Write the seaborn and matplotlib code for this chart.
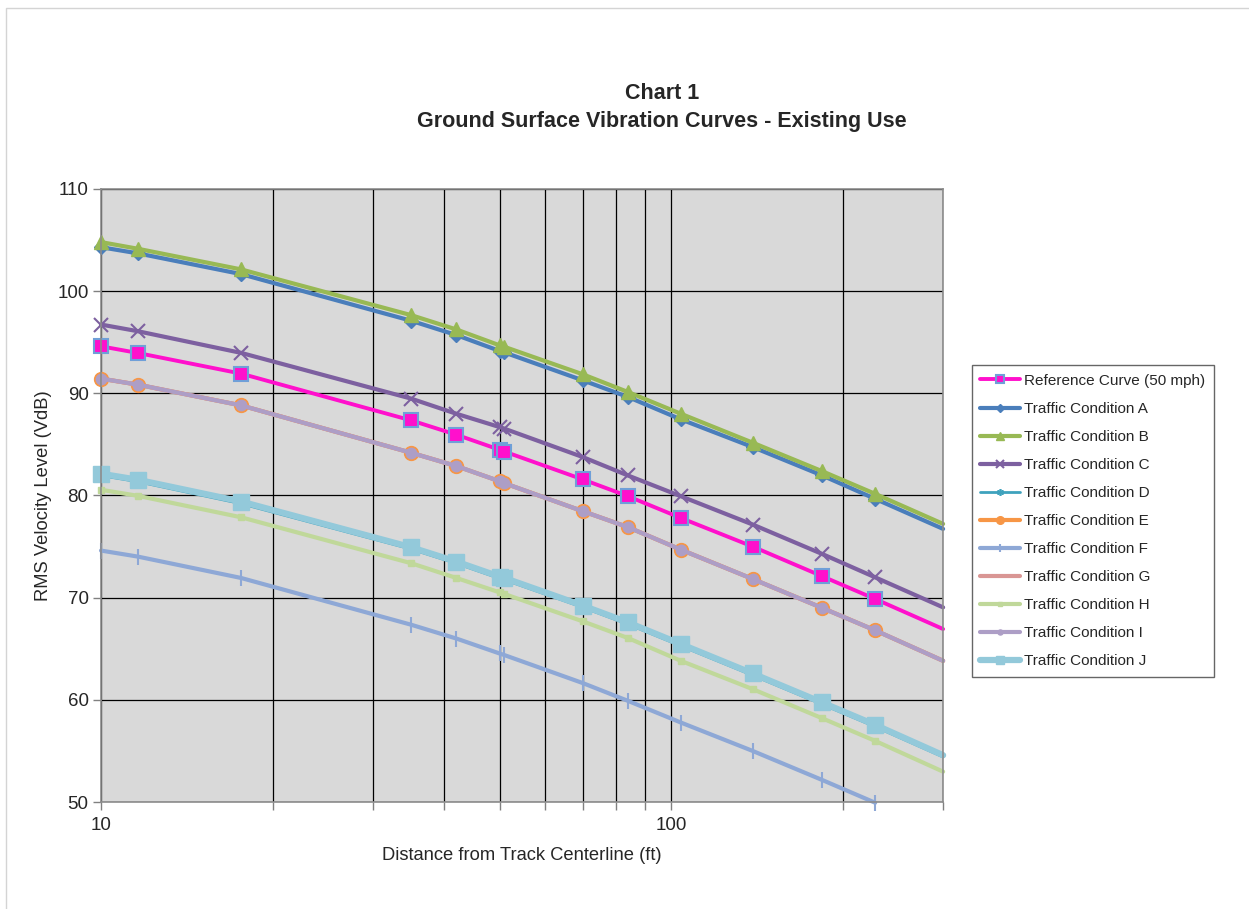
import numpy as np
import pandas as pd
import matplotlib
matplotlib.use("Agg")
import matplotlib.pyplot as plt
import seaborn as sns
from matplotlib.ticker import FixedLocator, NullFormatter, FixedFormatter
from matplotlib.patches import Rectangle

# ---- data ----
# distance from track centerline (ft); the last point (300) only carries the line to the axis edge
distance = [10, 11.6, 17.6, 35, 42, 50, 51, 70, 84, 104, 139, 184, 228, 300]

ref_curve = [94.6, 93.95, 91.93, 87.35, 85.95, 84.48, 84.3, 81.57, 79.93, 77.8, 75.0, 72.1, 69.87, 66.93]
cond_a = [104.3, 103.7, 101.67, 97.1, 95.7, 94.15, 94.0, 91.27, 89.64, 87.45, 84.74, 81.96, 79.67, 76.73]
cond_b = [104.8, 104.15, 102.13, 97.65, 96.25, 94.7, 94.55, 91.86, 90.13, 88.0, 85.17, 82.38, 80.16, 77.22]
cond_c = [96.73, 96.08, 93.96, 89.48, 88.0, 86.7, 86.54, 83.76, 81.96, 79.93, 77.16, 74.28, 71.99, 69.05]
cond_d = [81.95, 81.35, 79.2, 74.75, 73.35, 71.88, 71.75, 69.05, 67.4, 65.28, 62.4, 59.56, 57.37, 54.41]
cond_e = [91.44, 90.85, 88.82, 84.18, 82.88, 81.4, 81.2, 78.46, 76.9, 74.7, 71.83, 69.0, 66.8, 63.82]
cond_f = [74.61, 74.02, 71.93, 67.35, 66.0, 64.54, 64.38, 61.64, 59.9, 57.78, 55.0, 52.16, 49.93, np.nan]
cond_g = [91.44, 90.85, 88.82, 84.18, 82.88, 81.4, 81.2, 78.46, 76.9, 74.7, 71.83, 69.0, 66.8, 63.82]
cond_h = [80.56, 79.97, 77.87, 73.37, 71.93, 70.52, 70.36, 67.68, 66.05, 63.82, 61.05, 58.2, 55.98, 52.97]
cond_i = [91.44, 90.85, 88.82, 84.18, 82.88, 81.4, 81.2, 78.46, 76.9, 74.7, 71.83, 69.0, 66.8, 63.82]
cond_j = [82.13, 81.54, 79.41, 74.93, 73.53, 72.06, 71.93, 69.22, 67.58, 65.46, 62.58, 59.74, 57.55, 54.58]

series_names = ["Reference Curve (50 mph)"] + [f"Traffic Condition {c}" for c in "ABCDEFGHIJ"]
series_values = [ref_curve, cond_a, cond_b, cond_c, cond_d, cond_e, cond_f, cond_g, cond_h, cond_i, cond_j]

# style per series: colour, marker, marker size, line width, marker edge
styles = {
    "Reference Curve (50 mph)": dict(color="#FF10CC", marker="s", ms=10, lw=2.8, mec="#6F9FD8", mew=1.5),
    "Traffic Condition A": dict(color="#4A7EBB", marker="D", ms=7, lw=3.0, mec="#4A7EBB", mew=1),
    "Traffic Condition B": dict(color="#98B954", marker="^", ms=10, lw=3.0, mec="#98B954", mew=1),
    "Traffic Condition C": dict(color="#7D60A0", marker="x", ms=10, lw=3.0, mec="#7D60A0", mew=1.5),
    "Traffic Condition D": dict(color="#3FA2BD", marker=(6, 2, 0), ms=9, lw=2.0, mec="#3FA2BD", mew=1.2),
    "Traffic Condition E": dict(color="#F79646", marker="o", ms=10, lw=3.0, mec="#F79646", mew=1),
    "Traffic Condition F": dict(color="#8EA8D6", marker="|", ms=11, lw=3.0, mec="#8EA8D6", mew=1.5),
    "Traffic Condition G": dict(color="#D99694", marker=None, ms=0, lw=3.0, mec="#D99694", mew=0),
    "Traffic Condition H": dict(color="#C0D89A", marker="s", ms=4, lw=3.0, mec="#C0D89A", mew=1),
    "Traffic Condition I": dict(color="#AD9EC6", marker="o", ms=8.5, lw=3.0, mec="#AD9EC6", mew=0),
    "Traffic Condition J": dict(color="#93C9DA", marker="s", ms=11, lw=4.5, mec="#93C9DA", mew=1),
}

sns.set_style("white")
plt.rcParams["font.family"] = ["Liberation Sans", "DejaVu Sans"]

fig = plt.figure(figsize=(12.49, 9.09), dpi=100)
ax = fig.add_axes([0.0809, 0.1177, 0.6742, 0.6744])
ax.set_facecolor("#D9D9D9")

for name, vals in zip(series_names, series_values):
    df = pd.DataFrame({"distance": distance, "level": vals}).dropna()
    st = styles[name]
    n_marks = min(len(df), 13)
    sns.lineplot(data=df, x="distance", y="level", ax=ax, label=name,
                 color=st["color"], lw=st["lw"], marker=st["marker"],
                 markersize=st["ms"], markeredgecolor=st["mec"],
                 markeredgewidth=st["mew"], markevery=list(range(n_marks)),
                 estimator=None, errorbar=None, sort=True, clip_on=False)

ax.set_xscale("log")
ax.set_xlim(10, 300)
ax.set_ylim(50, 110)

ax.xaxis.set_major_locator(FixedLocator([10, 100]))
ax.xaxis.set_major_formatter(FixedFormatter(["10", "100"]))
ax.xaxis.set_minor_locator(FixedLocator([20, 30, 40, 50, 60, 70, 80, 90, 200, 300]))
ax.xaxis.set_minor_formatter(NullFormatter())
ax.set_yticks(range(50, 111, 10))

ax.grid(True, which="both", axis="x", color="black", lw=0.9)
ax.grid(True, which="major", axis="y", color="black", lw=0.9)
ax.set_axisbelow(True)

ax.tick_params(axis="both", which="major", direction="out", length=6, width=1,
               color="#808080", labelsize=13.5, pad=3, bottom=True, left=True)
ax.tick_params(axis="x", which="minor", direction="out", length=6, width=1,
               color="#808080", bottom=True)
ax.tick_params(axis="x", which="major", pad=5)
for sp in ax.spines.values():
    sp.set_color("#8C8C8C")
    sp.set_linewidth(1.2)

ax.set_xlabel("Distance from Track Centerline (ft)", fontsize=13.2, labelpad=9)
ax.set_ylabel("RMS Velocity Level (VdB)", fontsize=13.2, labelpad=4)

fig.text(0.530, 0.897, "Chart 1", ha="center", va="center", fontsize=15.5, fontweight="bold")
fig.text(0.530, 0.866, "Ground Surface Vibration Curves - Existing Use", ha="center",
         va="center", fontsize=15.5, fontweight="bold")

leg = ax.legend(loc="upper left", bbox_to_anchor=(0.778, 0.598), bbox_transform=fig.transFigure,
                frameon=True, fancybox=False, fontsize=11, handlelength=2.6,
                labelspacing=0.92, borderpad=0.55, handletextpad=0.3, markerscale=0.55,
                borderaxespad=0)
leg.get_frame().set_edgecolor("#404040")
leg.get_frame().set_linewidth(1.0)

# thin frame around the chart area
fig.patches.append(Rectangle((0.005, -0.02), 1.1, 1.011, transform=fig.transFigure,
                             fill=False, edgecolor="#D4D4D4", lw=1))

fig.savefig("out.png", dpi=100)
plt.close(fig)
